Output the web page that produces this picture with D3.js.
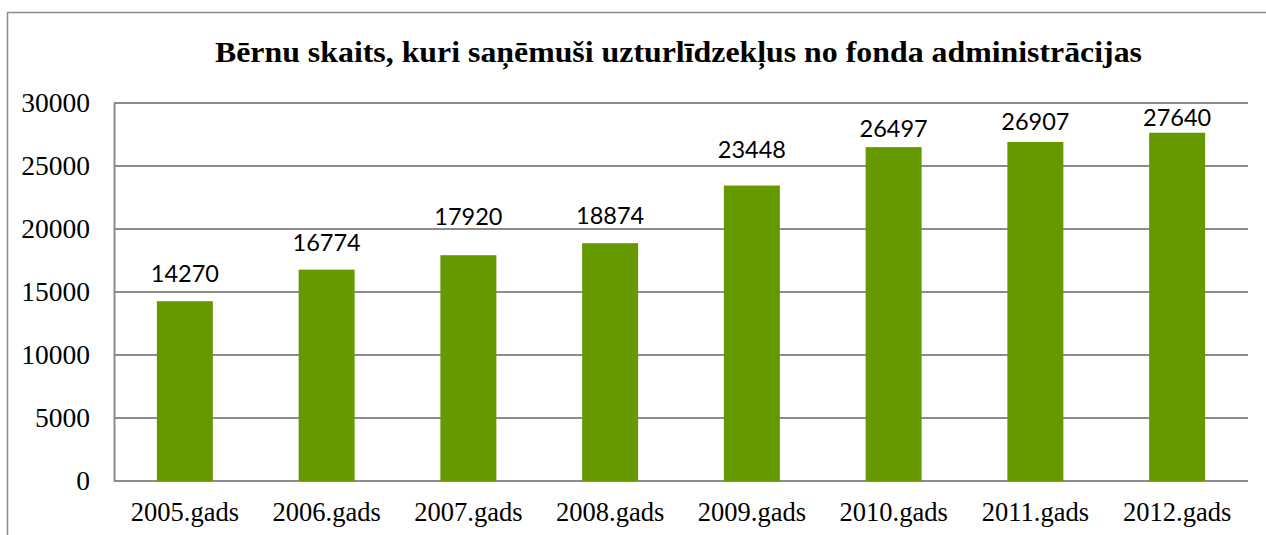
<!DOCTYPE html>
<html>
<head>
<meta charset="utf-8">
<script src="https://cdn.jsdelivr.net/npm/d3@7"></script>
<style>
  body { margin: 0; background: #fff; }
  svg { display: block; }
</style>
</head>
<body>
<script>
// dati
var years = ["2005.gads", "2006.gads", "2007.gads", "2008.gads", "2009.gads", "2010.gads", "2011.gads", "2012.gads"];
var children = [14270, 16774, 17920, 18874, 23448, 26497, 26907, 27640];
var yTicks = [0, 5000, 10000, 15000, 20000, 25000, 30000];
var title = "Bērnu skaits, kuri saņēmuši uzturlīdzekļus no fonda administrācijas";

// label gaps above the bars, as placed in the original
var labelGap = [19, 19, 30, 19, 28, 10, 12, 7];

var width = 1266, height = 535;
var margin = {top: 103, left: 114, right: 18, bottom: 54};

var svg = d3.select("body").append("svg")
    .attr("width", width)
    .attr("height", height);

// outer frame
svg.append("rect")
    .attr("x", 7.5).attr("y", 12.5)
    .attr("width", width).attr("height", height)
    .attr("fill", "none")
    .attr("stroke", "#8c8c8c")
    .attr("stroke-width", 1.5);

var x = d3.scaleBand()
    .domain(years)
    .range([margin.left, width - margin.right])
    .paddingInner(0.605)
    .paddingOuter(0.3025);

var y = d3.scaleLinear()
    .domain([0, 30000])
    .range([height - margin.bottom, margin.top]);

// gridlines
svg.append("g")
    .selectAll("line")
    .data(yTicks)
    .enter().append("line")
    .attr("x1", margin.left)
    .attr("x2", width - margin.right)
    .attr("y1", function(d) { return y(d); })
    .attr("y2", function(d) { return y(d); })
    .attr("stroke", "#8c8c8c")
    .attr("stroke-width", 2);

// y axis
var yAxis = svg.append("g")
    .attr("transform", "translate(" + margin.left + ",0)")
    .call(d3.axisLeft(y).tickValues(yTicks).tickSize(0).tickPadding(24).tickFormat(d3.format("d")));
yAxis.select(".domain").attr("stroke", "#8c8c8c").attr("stroke-width", 2);
yAxis.selectAll("text")
    .attr("font-family", "Liberation Serif, Times New Roman, serif")
    .attr("font-size", 27.5)
    .attr("fill", "#000");

// x axis
var xAxis = svg.append("g")
    .attr("transform", "translate(0," + y(0) + ")")
    .call(d3.axisBottom(x).tickSize(0).tickPadding(0));
xAxis.select(".domain").remove();
xAxis.selectAll("text")
    .attr("dy", null)
    .attr("y", 40)
    .attr("font-family", "Liberation Serif, Times New Roman, serif")
    .attr("font-size", 26.5)
    .attr("fill", "#000");

// bars
svg.append("g")
    .selectAll("rect")
    .data(children)
    .enter().append("rect")
    .attr("x", function(d, i) { return x(years[i]); })
    .attr("y", function(d) { return y(d); })
    .attr("width", x.bandwidth())
    .attr("height", function(d) { return y(0) - y(d); })
    .attr("fill", "#669900");

// value labels
svg.append("g")
    .selectAll("text")
    .data(children)
    .enter().append("text")
    .attr("x", function(d, i) { return x(years[i]) + x.bandwidth() / 2; })
    .attr("y", function(d, i) { return y(d) - labelGap[i]; })
    .attr("text-anchor", "middle")
    .attr("font-family", "Lato, sans-serif")
    .attr("font-size", 23.5)
    .attr("fill", "#000")
    .text(function(d) { return d; });

// title
svg.append("text")
    .attr("x", 678.5)
    .attr("y", 62)
    .attr("text-anchor", "middle")
    .attr("font-family", "Liberation Serif, Times New Roman, serif")
    .attr("font-weight", "bold")
    .attr("font-size", 29)
    .attr("textLength", 927)
    .attr("lengthAdjust", "spacingAndGlyphs")
    .attr("fill", "#000")
    .text(title);
</script>
</body>
</html>
